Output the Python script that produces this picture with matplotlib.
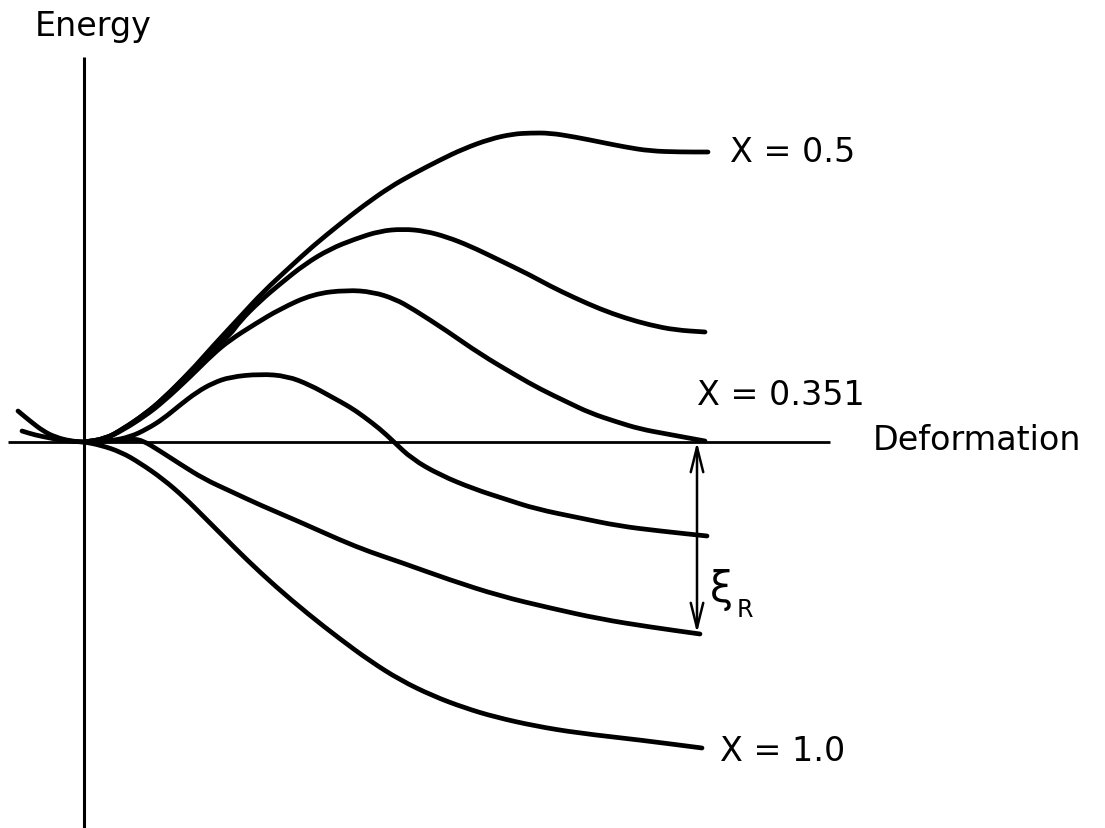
import numpy as np
import matplotlib.pyplot as plt
from matplotlib.path import Path
from matplotlib.patches import PathPatch

plt.rcParams['font.family'] = 'DejaVu Sans'

# curves, units of 100 px, origin at the axis crossing
# (deformation, energy) pairs
x05 = [0, 0.21, 0.39, 0.61, 0.79, 1.06, 1.29, 1.56, 1.79, 2.06, 2.29, 2.56, 2.79,
       3.06, 3.29, 3.56, 3.79, 4.06, 4.29, 4.46, 4.66, 4.91, 5.16, 5.41, 5.66, 5.96, 6.24]
e05 = [0, 0.03, 0.13, 0.28, 0.43, 0.70, 0.96, 1.25, 1.50, 1.75, 1.96, 2.18, 2.36,
       2.55, 2.68, 2.82, 2.93, 3.03, 3.08, 3.09, 3.09, 3.05, 3.00, 2.95, 2.91, 2.90, 2.90]

x_b = [0, 0.21, 0.39, 0.61, 0.79, 1.06, 1.29, 1.46, 1.56, 1.76, 1.96, 2.21, 2.46, 2.71,
       2.96, 3.19, 3.41, 3.63, 3.86, 4.13, 4.46, 4.66, 4.91, 5.16, 5.41, 5.66, 5.91, 6.21]
e_b = [0, 0.03, 0.13, 0.28, 0.43, 0.70, 0.93, 1.07, 1.21, 1.41, 1.58, 1.78, 1.93, 2.03,
       2.11, 2.13, 2.11, 2.05, 1.96, 1.83, 1.67, 1.56, 1.44, 1.33, 1.24, 1.17, 1.12, 1.10]

x0351 = [0, 0.21, 0.39, 0.61, 0.79, 1.06, 1.29, 1.46, 1.71, 1.96, 2.29, 2.63, 2.89,
         3.11, 3.29, 3.63, 3.96, 4.33, 4.56, 4.83, 5.06, 5.33, 5.56, 5.83, 6.21]
e0351 = [0, 0.03, 0.12, 0.26, 0.40, 0.65, 0.88, 1.02, 1.18, 1.33, 1.48, 1.52, 1.50,
         1.43, 1.33, 1.11, 0.88, 0.66, 0.53, 0.40, 0.29, 0.20, 0.13, 0.08, 0.01]

x_c = [0, 0.26, 0.46, 0.63, 0.79, 0.96, 1.13, 1.29, 1.46, 1.76, 2.03, 2.26, 2.46, 2.66,
       2.79, 2.96, 3.09, 3.28, 3.56, 3.90, 4.21, 4.52, 4.96, 5.35, 5.76, 6.23]
e_c = [0, 0.01, 0.05, 0.13, 0.23, 0.37, 0.50, 0.59, 0.65, 0.68, 0.66, 0.57, 0.46, 0.35,
       0.26, 0.13, 0.01, -0.17, -0.33, -0.47, -0.57, -0.67, -0.76, -0.84, -0.89, -0.94]

x_d = [0, 0.26, 0.46, 0.58, 0.76, 0.96, 1.20, 1.46, 1.76, 2.16, 2.56, 2.86, 3.16,
       3.66, 4.16, 4.66, 5.16, 5.66, 6.16]
e_d = [0, 0.01, 0.03, 0.02, -0.09, -0.22, -0.37, -0.49, -0.63, -0.80, -0.98, -1.10,
       -1.20, -1.38, -1.54, -1.66, -1.77, -1.85, -1.92]

x10 = [0, 0.16, 0.37, 0.56, 0.79, 1.01, 1.20, 1.41, 1.62, 1.91, 2.24, 2.56, 2.86, 3.16,
       3.49, 3.81, 4.11, 4.51, 4.94, 5.56, 6.18]
e10 = [0, -0.03, -0.10, -0.21, -0.37, -0.56, -0.75, -0.96, -1.17, -1.44, -1.72, -1.97,
       -2.19, -2.38, -2.54, -2.66, -2.75, -2.84, -2.91, -2.98, -3.06]

# two short branches left of the origin
x_l1 = [-0.66, -0.54, -0.41, -0.29, -0.14, 0]
e_l1 = [0.31, 0.21, 0.11, 0.05, 0.01, 0]
x_l2 = [-0.62, -0.49, -0.34, -0.19, 0]
e_l2 = [0.11, 0.07, 0.04, 0.01, 0]

curves = [(x05, e05), (x_b, e_b), (x0351, e0351), (x_c, e_c), (x_d, e_d), (x10, e10),
          (x_l1, e_l1), (x_l2, e_l2)]


def smooth_path(xs, ys):
    # quadratic bezier through midpoints, read points act as control points
    p = np.column_stack([xs, ys])
    mids = (p[:-1] + p[1:]) / 2
    verts = [p[0], mids[0]]
    codes = [Path.MOVETO, Path.LINETO]
    for i in range(1, len(p) - 1):
        verts += [p[i], mids[i]]
        codes += [Path.CURVE3, Path.CURVE3]
    verts.append(p[-1])
    codes.append(Path.LINETO)
    return Path(verts, codes)


fig = plt.figure(figsize=(11.05, 8.29), dpi=100)
ax = fig.add_axes([0, 0, 1, 1])
ax.set_xlim(-0.84, 10.21)
ax.set_ylim(-3.86, 4.43)
ax.axis('off')

# axes of the sketch
ax.plot([0, 0], [3.85, -3.86], color='black', lw=2.2, solid_capstyle='butt')
ax.plot([-0.76, 7.46], [0, 0], color='black', lw=2.0, solid_capstyle='butt')

for xs, es in curves:
    ax.add_patch(PathPatch(smooth_path(xs, es), facecolor='none', edgecolor='black',
                           lw=3.4, capstyle='round', joinstyle='round'))

# barrier drop arrow
ax.annotate('', xy=(6.13, 0.0), xytext=(6.13, -1.91),
            arrowprops=dict(arrowstyle='<->,head_length=1.8,head_width=0.45',
                            color='black', lw=1.8, shrinkA=0, shrinkB=0))

ax.text(6.26, -1.47, 'ξ', fontsize=30, ha='left', va='center')
ax.text(6.53, -1.67, 'R', fontsize=17, ha='left', va='center')

lbl = dict(fontsize=24, ha='left', va='center')
ax.text(-0.49, 4.16, 'Energy', **lbl)
ax.text(7.89, 0.02, 'Deformation', **lbl)
ax.text(6.46, 2.90, 'X = 0.5', **lbl)
ax.text(6.13, 0.47, 'X = 0.351', **lbl)
ax.text(6.36, -3.09, 'X = 1.0', **lbl)

fig.savefig('out.png', dpi=100)
